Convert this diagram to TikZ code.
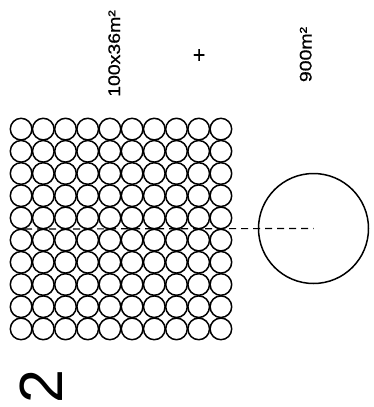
\documentclass[tikz,border=0pt]{standalone}
\usepackage{fontspec}
\setmainfont{Liberation Sans}
\newfontfamily\lblfont[FakeStretch=1.16, FakeBold=0.6]{Liberation Sans}
\usetikzlibrary{positioning}

\tikzset{
  cell/.style={draw, circle, line width=1.5pt, minimum size=21.6pt, inner sep=0pt},
  lbl/.style={font=\lblfont\fontsize{16.8}{18}\selectfont, rotate=90, inner sep=0pt}
}

\begin{document}
\begin{tikzpicture}[x=1pt, y=-1pt]
  \useasboundingbox (0,0) rectangle (374,407);

  % Labels
  \node[lbl, anchor=base] (small) at (120,53.5) {100x36m²};
  \node[lbl, font=\lblfont\fontsize{21}{22}\selectfont] (plus) at (200,55) {+};
  \node[lbl, anchor=base] (total) at (311.5,54.5) {900m²};

  % Grid of 100 circles
  \foreach \i in {0,...,9}
    \foreach \j in {0,...,9}
      \node[cell] (c\i\j) at ({21.1+22.2*\i},{129.1+22.2*\j}) {};

  % Single large circle
  \node[draw, circle, line width=1.5pt, minimum size=110pt, inner sep=0pt] (big) at (313.5,228.5) {};

  % Dashed axis
  \coordinate (start) at (25,229);
  \draw[line width=1.2pt, dash pattern=on 7pt off 5pt] (start) -- (big.center);

  % Figure number
  \node[font=\fontsize{61}{61}\selectfont, rotate=90, anchor=base, inner sep=0pt] (fig) at (62,387) {2};
\end{tikzpicture}
\end{document}
